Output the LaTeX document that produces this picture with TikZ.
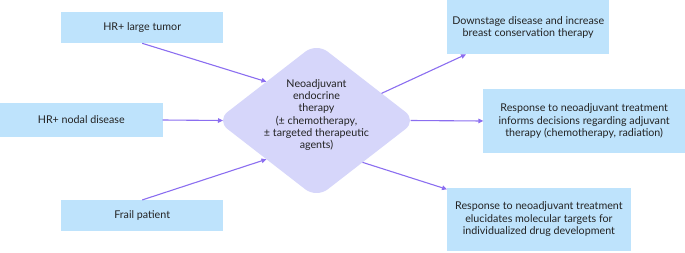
\documentclass[tikz,border=0pt]{standalone}
\usepackage{fontspec}
\setmainfont{Lato}
\usetikzlibrary{shapes.geometric,arrows.meta,calc}
\definecolor{boxblue}{RGB}{190,227,252}
\definecolor{dialav}{RGB}{214,214,250}
\definecolor{arrpurple}{RGB}{139,110,240}
\definecolor{txt}{RGB}{35,35,35}
\tikzset{
  box/.style={rectangle, fill=boxblue, draw=none, inner sep=0pt, outer sep=0pt, align=center, text=txt,
    font=\fontsize{10.7pt}{12.2pt}\selectfont},
  dia/.style={diamond, fill=dialav, draw=none, rounded corners=14pt, inner sep=0pt, outer sep=0pt,
    minimum width=200pt, minimum height=155pt},
  diatext/.style={align=center, text=txt, inner sep=0pt, font=\fontsize{10.7pt}{12.2pt}\selectfont},
  arr/.style={draw=arrpurple, line width=1.1pt, -{Triangle[length=5pt,width=4.5pt]}}
}
\begin{document}
\begin{tikzpicture}[x=1pt,y=-1pt]
\useasboundingbox (0,0) rectangle (685,252);
\node[box, minimum width=162.3pt, minimum height=31pt] (b1) at (142.2,27.8) {HR+ large tumor};
\node[box, minimum width=162.7pt, minimum height=33.4pt] (b2) at (81.3,120) {HR+ nodal disease};
\node[box, minimum width=162.3pt, minimum height=30.7pt] (b3) at (142.2,215.3) {Frail patient};
\node[dia] (d) at (316.5,120.5) {};
\node[diatext] (dt) at (316.5,115) {Neoadjuvant\\endocrine\\therapy\\(\textpm{} chemotherapy,\\\textpm{} targeted therapeutic\\agents)};
\node[box, minimum width=162.3pt, minimum height=54.3pt] (b4) at (528.2,27.2) {Downstage disease and increase\\breast conservation therapy};
\node[box, minimum width=201.7pt, minimum height=63.4pt] (b5) at (584.2,121) {Response to neoadjuvant treatment\\informs decisions regarding adjuvant\\therapy (chemotherapy, radiation)};
\node[box, minimum width=183.7pt, minimum height=63pt] (b6) at (538.9,219.2) {Response to neoadjuvant treatment\\elucidates molecular targets for\\individualized drug development};
\draw[arr] (b1.south) -- ($(d.west)!0.5!(d.north)$);
\draw[arr] (b2.east) -- ($(d.west)+(6.5,0)$);
\draw[arr] (b3.north) -- ($(d.west)!0.5!(d.south)$);
\draw[arr] ($(d.north)!0.65!(d.east)$) -- ($(b4.south west)+(19,0)$);
\draw[arr] ($(d.east)+(-6,0)$) -- (b5.west);
\draw[arr] ($(d.south)!0.46!(d.east)$) -- ($(b6.north west)+(0,1.6)$);
\end{tikzpicture}
\end{document}
